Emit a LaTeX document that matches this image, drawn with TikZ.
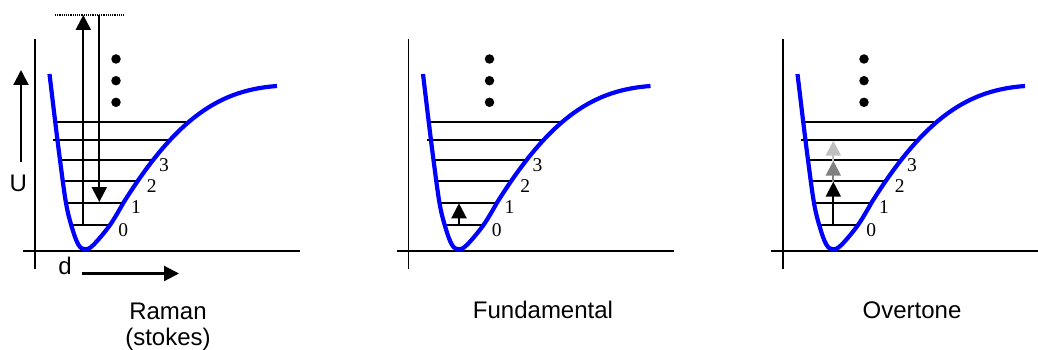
\documentclass[tikz,border=0pt]{standalone}
\usepackage{fontspec}
\setmainfont{Liberation Sans}
\newfontfamily\serifnum{Liberation Serif}
\usetikzlibrary{arrows.meta}

\tikzset{
  axisline/.style={line width=1.7pt},
  levelline/.style={line width=1.7pt},
  well/.style={color={rgb,255:red,0;green,0;blue,255}, line width=4.2pt},
  arr/.style={line width=2.2pt, -{Triangle[length=15pt,width=15pt]}},
  num/.style={font=\serifnum\fontsize{19.5}{19.5}\selectfont, inner sep=0pt},
  lab/.style={font=\fontsize{24}{26}\selectfont, inner sep=0pt},
  vdot/.style={fill=black, circle, minimum size=9.5pt, inner sep=0pt},
  pics/panel/.style={code={
    \draw[axisline] (35,39) -- (35,269);
    \draw[axisline] (23,251) -- (300,251);
    \draw[levelline] (70,225) -- (110,225);
    \draw[levelline] (64,203.3) -- (123.3,203.3);
    \draw[levelline] (61.7,181) -- (138.3,181);
    \draw[levelline] (59.3,160) -- (153,160);
    \draw[levelline] (53.3,140) -- (170,140);
    \draw[levelline] (55,122) -- (186,122);
    \draw[well] plot[smooth, tension=0.6] coordinates {
      (49.5,74) (55,120) (60,160) (66,203) (71.7,226.7) (78.3,244.5)
      (85,249.3) (93.3,245) (110,225) (123.3,203)}
      .. controls (178.3,115) and (222,90) .. (277,86);
    \node[num] (-n0) at (123.3,230) {0};
    \node[num] (-n1) at (136,207.5) {1};
    \node[num] (-n2) at (151.7,186.5) {2};
    \node[num] (-n3) at (164,165) {3};
    \node[vdot] (-d1) at (116,59) {};
    \node[vdot] (-d2) at (116,80.7) {};
    \node[vdot] (-d3) at (116,102.3) {};
  }}
}

\begin{document}
\begin{tikzpicture}[x=1pt,y=-1pt]
\useasboundingbox (0,0) rectangle (1038,350);
\fill[white] (0,0) rectangle (1038,350);

\pic (p1) at (0,0) {panel};
\pic (p2) at (373.5,0) {panel};
\begin{scope}
\clip (0,0) rectangle (1038,350);
\pic (p3) at (748,0) {panel};
\end{scope}

% Raman panel
\coordinate (rv0) at (83.3,225);
\coordinate (rtop) at (83.3,15);
\coordinate (rdtop) at (99.3,15);
\coordinate (rv1) at (99.3,202);
\coordinate (vl) at (55,15);
\coordinate (vr) at (123.3,15);
\draw[line width=1.2pt, densely dotted] (vl) -- (vr);
\draw[arr] (rv0) -- (rtop);
\draw[arr] (rdtop) -- (rv1);

\coordinate (ua) at (21,162);
\coordinate (ub) at (21,70);
\draw[arr] (ua) -- (ub);
\node[lab] (U) at (18.3,183.3) {U};
\node[lab, anchor=base] (d) at (65,274.5) {d};
\coordinate (da) at (81.7,273.5);
\coordinate (db) at (179,273.5);
\draw[arr] (da) -- (db);

\node[lab, anchor=base] (raman) at (168,319) {Raman};
\node[lab, anchor=base] (stokes) at (168,345) {(stokes)};

% Fundamental panel
\coordinate (f0) at (459,225);
\coordinate (f1) at (459,203.3);
\draw[arr] (f0) -- (f1);
\node[lab, anchor=base] (fund) at (543,318) {Fundamental};

% Overtone panel
\coordinate (o0) at (833.3,225);
\coordinate (o2) at (833.3,181.7);
\coordinate (o3) at (833.3,160.7);
\coordinate (o4) at (833.3,140.7);
\draw[arr] (o0) -- (o2);
\draw[arr, black!50] (o2) -- (o3);
\draw[arr, black!25] (o3) -- (o4);
\node[lab, anchor=base] (over) at (912,318) {Overtone};
\end{tikzpicture}
\end{document}
